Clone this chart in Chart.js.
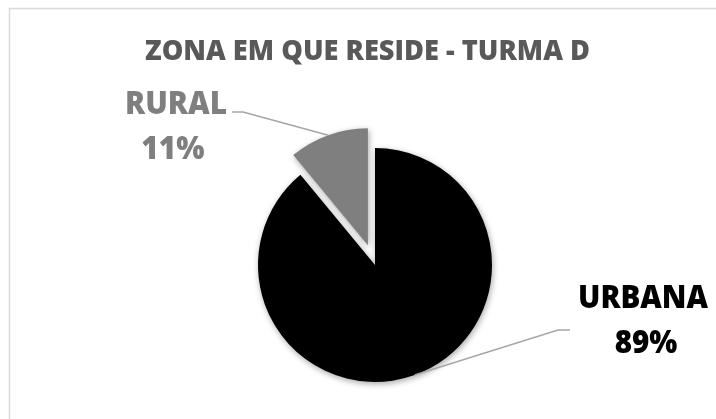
<!DOCTYPE html>
<html><head><meta charset="utf-8">
<script src="https://cdn.jsdelivr.net/npm/chart.js@4.4.0/dist/chart.umd.min.js"></script>
<style>html,body{margin:0;padding:0;background:#fff;overflow:hidden}</style>
</head><body>
<canvas id="c" width="716" height="419"></canvas>
<script>
const chartTitle = 'ZONA EM QUE RESIDE - TURMA D';
const categories = ['URBANA', 'RURAL'];
const percentages = [89, 11];
const sliceColors = ['#000000', '#7f7f7f'];
const labelColors = ['#000000', '#7f7f7f'];

const FONT = '"Open Sans"';
const WEIGHT = '800';
const CAP = 0.714;
// label layout: text centre x, baselines, cap height, target width of first line, leader elbow
const labelLayout = [
  {cx: 643, b1: 308, b2: 353, cap: 23, w1: 130, elbow: [[570, 330], [558, 330]]},
  {cx: 176, b1: 114, b2: 159, cap: 23, w1: 102, elbow: [[232, 112], [243, 112]]}
];
const explode = [0, 21];

function scaleFor(ctx, text, size, width) {
  ctx.font = WEIGHT + ' ' + size + 'px ' + FONT;
  return width / ctx.measureText(text).width;
}
function drawScaled(ctx, text, x, y, size, sx) {
  ctx.save();
  ctx.font = WEIGHT + ' ' + size + 'px ' + FONT;
  ctx.textAlign = 'center';
  ctx.textBaseline = 'alphabetic';
  ctx.translate(x, y);
  ctx.scale(sx, 1);
  ctx.fillText(text, 0, 0);
  ctx.restore();
}

const decor = {
  id: 'decor',
  afterDatasetUpdate(chart) {
    const meta = chart.getDatasetMeta(0);
    meta.data.forEach((arc, i) => {
      if (!explode[i]) return;
      const mid = (arc.startAngle + arc.endAngle) / 2;
      arc.x += Math.cos(mid) * explode[i];
      arc.y += Math.sin(mid) * explode[i];
    });
  },
  beforeDraw(chart) {
    const ctx = chart.ctx;
    ctx.save();
    ctx.fillStyle = '#fff';
    ctx.fillRect(0, 0, chart.width, chart.height);
    ctx.strokeStyle = '#d9d9d9';
    ctx.lineWidth = 1.5;
    ctx.strokeRect(9.5, 8.5, 900, 900);
    const size = 20.5 / CAP;
    const sx = scaleFor(ctx, chartTitle, size, 445);
    ctx.fillStyle = '#595959';
    drawScaled(ctx, chartTitle, 367.5, 60, size, sx);
    ctx.restore();
  },
  beforeDatasetsDraw(chart) {
    const ctx = chart.ctx;
    ctx.save();
    ctx.shadowColor = 'rgba(0,0,0,0.35)';
    ctx.shadowBlur = 6;
    ctx.shadowOffsetX = 1;
    ctx.shadowOffsetY = 2;
  },
  afterDatasetsDraw(chart) {
    const ctx = chart.ctx;
    ctx.restore();
    const meta = chart.getDatasetMeta(0);
    const total = percentages.reduce((a, b) => a + b, 0);
    meta.data.forEach((arc, i) => {
      const L = labelLayout[i];
      const mid = (arc.startAngle + arc.endAngle) / 2;
      const ex = arc.x + Math.cos(mid) * arc.outerRadius;
      const ey = arc.y + Math.sin(mid) * arc.outerRadius;
      ctx.save();
      ctx.strokeStyle = '#a6a6a6';
      ctx.lineWidth = 1.5;
      ctx.beginPath();
      ctx.moveTo(L.elbow[0][0], L.elbow[0][1]);
      ctx.lineTo(L.elbow[1][0], L.elbow[1][1]);
      ctx.lineTo(ex, ey);
      ctx.stroke();
      const size = L.cap / CAP;
      const sx = scaleFor(ctx, categories[i], size, L.w1);
      ctx.fillStyle = labelColors[i];
      drawScaled(ctx, categories[i], L.cx, L.b1, size, sx);
      drawScaled(ctx, Math.round(percentages[i] / total * 100) + '%', L.cx + (i ? -3 : 3), L.b2, size, sx);
      ctx.restore();
    });
  }
};

new Chart(document.getElementById('c'), {
  type: 'pie',
  data: {
    labels: categories,
    datasets: [{
      data: percentages,
      backgroundColor: sliceColors,
      borderWidth: 0
    }]
  },
  options: {
    responsive: false,
    animation: false,
    radius: 117,
    layout: {padding: {left: 34, right: 0, top: 111, bottom: 0}},
    plugins: {legend: {display: false}, tooltip: {enabled: false}, title: {display: false}}
  },
  plugins: [decor]
});
</script>
</body></html>
